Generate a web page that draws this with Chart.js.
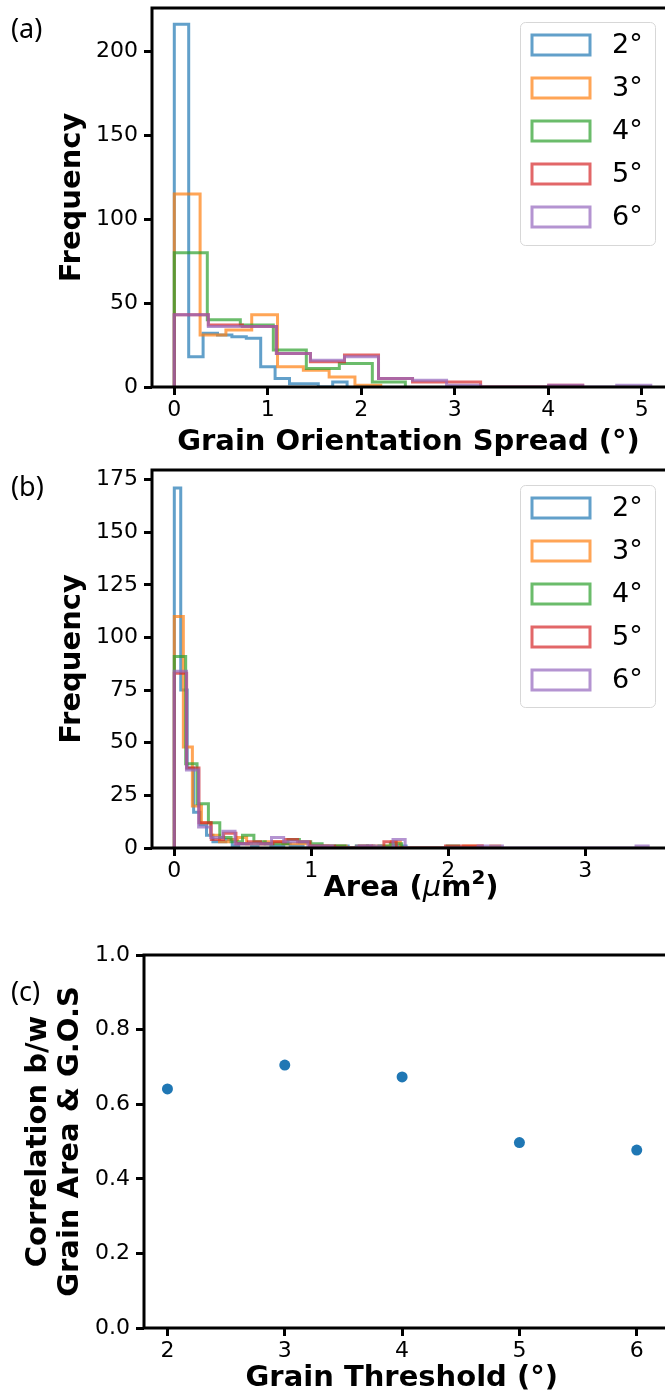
<!DOCTYPE html>
<html>
<head>
<meta charset="utf-8">
<script src="https://cdn.jsdelivr.net/npm/chart.js@4.4.1/dist/chart.umd.min.js"></script>
<style>
html, body { margin:0; padding:0; background:#fff; width:665px; height:1397px; overflow:hidden; }
.panel { position:absolute; left:0; width:665px; }
.panel canvas { display:block; }
.lbl { position:absolute; left:11px; font-family:"Noto Sans", sans-serif; font-size:27px; line-height:32px; color:#000; }
</style>
</head>
<body>
<div class="panel" style="top:0;height:462px"><canvas id="ca" width="665" height="462"></canvas></div>
<div class="panel" style="top:462px;height:468px"><canvas id="cb" width="665" height="468"></canvas></div>
<div class="panel" style="top:930px;height:467px"><canvas id="cc" width="665" height="467"></canvas></div>
<div class="lbl" style="top:12px">(a)</div>
<div class="lbl" style="top:470px">(b)</div>
<div class="lbl" style="top:975px">(c)</div>
<script>
// ---------- shared ----------
const seriesLabels = ['2°', '3°', '4°', '5°', '6°'];
const seriesColors = ['rgba(31,119,180,0.7)', 'rgba(255,127,14,0.7)', 'rgba(44,160,44,0.7)', 'rgba(214,39,40,0.7)', 'rgba(148,103,189,0.7)'];

// ---------- (a) Grain Orientation Spread histograms ----------
const gosBinWidth = [0.154, 0.276, 0.353, 0.364, 0.364];
const gos2 = [216, 18, 32, 31, 30, 29, 12, 5, 2, 2, 0, 3];
const gos3 = [115, 31, 34, 43, 12, 10, 6, 1];
const gos4 = [80, 40, 37, 22, 11, 14, 3];
const gos5 = [43, 37, 36, 20, 15, 19, 5, 3, 3, 0, 0, 1];
const gos6 = [43, 36, 36, 20, 16, 18, 5, 4, 1, 0, 0, 1, 0, 1];
const gosTicksX = [0, 1, 2, 3, 4, 5];
const gosTicksY = [0, 50, 100, 150, 200];

// ---------- (b) Area histograms ----------
const areaBinWidth = [0.047, 0.066, 0.083, 0.09, 0.0887];
const area2 = [171, 75, 38, 17, 11, 6, 3, 3, 4, 1, 2, 2, 1, 2, 2, 1, 1, 2, 1, 1, 0, 1, 1, 0, 0, 1, 1, 0, 0, 0, 1, 0, 0, 0, 1, 1];
const area3 = [110, 48, 20, 12, 6, 3, 4, 5, 2, 2, 3, 3, 2, 2, 2, 1, 1, 0, 1, 0, 0, 0, 1, 1, 3, 0, 0, 0, 0, 0, 0, 0, 1, 1, 0, 1];
const area4 = [91, 40, 21, 12, 5, 3, 6, 3, 2, 2, 4, 3, 2, 1, 1, 0, 1, 0, 1, 2, 0, 0, 0, 0, 1];
const area5 = [83, 38, 12, 4, 7, 2, 3, 2, 3, 4, 3, 1, 1, 0, 0, 1, 0, 3, 0, 0, 0, 0, 1, 1, 1];
const area6 = [84, 37, 10, 5, 8, 2, 2, 2, 5, 3, 3, 1, 1, 0, 0, 1, 1, 0, 4, 0, 0, 0, 0, 0, 0, 1, 1, 0, 0, 0, 0, 0, 0, 0, 0, 0, 0, 0, 1];
const areaTicksX = [0, 1, 2, 3];
const areaTicksY = [0, 25, 50, 75, 100, 125, 150, 175];

// ---------- (c) correlation ----------
const thresholds = [2, 3, 4, 5, 6];
const correlation = [0.641, 0.705, 0.673, 0.497, 0.477];
const corrTicksX = [2, 3, 4, 5, 6];
const corrTicksY = [0, 0.2, 0.4, 0.6, 0.8, 1.0];

// ---------- helpers ----------
const FONT = "'DejaVu Sans', sans-serif";
const TICK_SIZE = 22;
const TITLE_SIZE = 29;

function stepOutline(counts, width) {
  const pts = [{ x: 0, y: 0 }];
  counts.forEach((c, i) => pts.push({ x: i * width, y: c }));
  pts.push({ x: counts.length * width, y: 0 });
  return pts;
}

function histDatasets(seriesList, widths) {
  return seriesList.map((counts, i) => ({
    label: seriesLabels[i],
    data: stepOutline(counts, widths[i]),
    borderColor: seriesColors[i],
    backgroundColor: 'transparent',
    borderWidth: 3,
    stepped: true,
    pointRadius: 0,
    fill: false,
    tension: 0,
    borderJoinStyle: 'miter',
    borderCapStyle: 'butt',
    order: seriesList.length - i
  }));
}

const framePlugin = {
  id: 'frame',
  afterDatasetsDraw(chart) {
    const { ctx, chartArea: a } = chart;
    ctx.save();
    ctx.strokeStyle = '#000';
    ctx.lineWidth = 3;
    ctx.lineJoin = 'miter';
    ctx.beginPath();
    ctx.moveTo(chart.width + 5, a.top);
    ctx.lineTo(a.left, a.top);
    ctx.lineTo(a.left, a.bottom);
    ctx.lineTo(chart.width + 5, a.bottom);
    ctx.stroke();
    ctx.restore();
  }
};

const boxLegend = {
  id: 'boxLegend',
  afterDatasetsDraw(chart, args, o) {
    if (!o || !o.show) return;
    const ctx = chart.ctx;
    ctx.save();
    ctx.beginPath();
    ctx.roundRect(o.left + 0.5, o.top + 0.5, o.width, o.height, 5);
    ctx.fillStyle = 'rgba(255,255,255,0.8)';
    ctx.fill();
    ctx.strokeStyle = 'rgba(215,215,215,1)';
    ctx.lineWidth = 1;
    ctx.stroke();
    chart.data.datasets.forEach((ds, i) => {
      const cy = o.top + o.first + i * o.step;
      ctx.strokeStyle = ds.borderColor;
      ctx.lineWidth = 3;
      ctx.strokeRect(o.left + 12, cy - 10, 58, 20);
      ctx.fillStyle = '#000';
      ctx.font = "27px " + FONT;
      ctx.textBaseline = 'middle';
      ctx.textAlign = 'left';
      ctx.fillText(ds.label, o.left + 92, cy + 1);
    });
    ctx.restore();
  }
};

// x-axis title with mixed styles (italic mu, superscript 2)
const richTitle = {
  id: 'richTitle',
  afterDraw(chart, args, o) {
    if (!o || !o.parts) return;
    const ctx = chart.ctx;
    ctx.save();
    ctx.fillStyle = '#000';
    ctx.textBaseline = 'alphabetic';
    ctx.textAlign = 'left';
    let total = 0;
    o.parts.forEach(p => { ctx.font = p.font; total += ctx.measureText(p.text).width; });
    let x = o.cx - total / 2;
    o.parts.forEach(p => {
      ctx.font = p.font;
      ctx.fillText(p.text, x, o.baseline + (p.dy || 0));
      x += ctx.measureText(p.text).width;
    });
    ctx.restore();
  }
};

function tickSetter(list) {
  return (s) => { s.ticks = list.map(v => ({ value: v })); };
}

function axisX(min, max, ticks, title, height, titlePadBottom, fmt) {
  return {
    type: 'linear', min, max,
    afterBuildTicks: tickSetter(ticks),
    afterFit: (s) => { s.height = height; s.paddingLeft = 0; s.paddingRight = 0; },
    border: { display: false },
    grid: { display: true, drawOnChartArea: false, drawTicks: true, tickLength: 8, tickWidth: 3, tickColor: '#000' },
    ticks: { color: '#000', font: { family: FONT, size: TICK_SIZE }, padding: 2, maxRotation: 0, autoSkip: false, callback: fmt },
    title: { display: !!title, text: title || '', color: '#000', font: { family: FONT, size: TITLE_SIZE, weight: 'bold', lineHeight: 1.2 }, padding: { top: 0, bottom: titlePadBottom } }
  };
}

function axisY(min, max, ticks, title, titlePadTop, fmt, lh, width) {
  return {
    type: 'linear', min, max,
    afterBuildTicks: tickSetter(ticks),
    afterFit: (s) => { s.width = width; s.paddingTop = 0; s.paddingBottom = 0; },
    border: { display: false },
    grid: { display: true, drawOnChartArea: false, drawTicks: true, tickLength: 8, tickWidth: 3, tickColor: '#000' },
    ticks: { color: '#000', font: { family: FONT, size: TICK_SIZE }, padding: 6, autoSkip: false, callback: fmt },
    title: { display: true, text: title, color: '#000', font: { family: FONT, size: TITLE_SIZE, weight: 'bold', lineHeight: lh || 1.2 }, padding: { top: titlePadTop, bottom: 0 } }
  };
}

// ---------- chart (a) ----------
new Chart(document.getElementById('ca'), {
  type: 'line',
  data: { datasets: histDatasets([gos2, gos3, gos4, gos5, gos6], gosBinWidth) },
  options: {
    responsive: false, animation: false, events: [],
    layout: { padding: { top: 8, left: 0, right: 0, bottom: 0 } },
    plugins: { legend: { display: false }, tooltip: { enabled: false },
      boxLegend: { show: true, left: 520, top: 22, width: 135, height: 223, first: 23, step: 43 } },
    scales: {
      x: axisX(-0.2385, 5.248, gosTicksX, 'Grain Orientation Spread (°)', 75, 2, v => String(v)),
      y: axisY(0, 225.75, gosTicksY, 'Frequency', 55, v => String(v), 1.2, 152)
    }
  },
  plugins: [framePlugin, boxLegend]
});

// ---------- chart (b) ----------
const BOLD = "bold " + TITLE_SIZE + "px " + FONT;
new Chart(document.getElementById('cb'), {
  type: 'line',
  data: { datasets: histDatasets([area2, area3, area4, area5, area6], areaBinWidth) },
  options: {
    responsive: false, animation: false, events: [],
    layout: { padding: { top: 8, left: 0, right: 0, bottom: 0 } },
    plugins: { legend: { display: false }, tooltip: { enabled: false },
      boxLegend: { show: true, left: 520, top: 23, width: 135, height: 222, first: 23, step: 43 },
      richTitle: { cx: 411, baseline: 434, parts: [
        { text: 'Area (', font: BOLD },
        { text: 'μ', font: "italic " + TITLE_SIZE + "px " + FONT },
        { text: 'm', font: BOLD },
        { text: '2', font: "bold 20px " + FONT, dy: -12 },
        { text: ')', font: BOLD }
      ] } },
    scales: {
      x: axisX(-0.1628, 3.582, areaTicksX, null, 82, 0, v => String(v)),
      y: axisY(0, 179.55, areaTicksY, 'Frequency', 55, v => String(v), 1.2, 152)
    }
  },
  plugins: [framePlugin, boxLegend, richTitle]
});

// ---------- chart (c) ----------
new Chart(document.getElementById('cc'), {
  type: 'scatter',
  data: { datasets: [{
    label: 'correlation',
    data: thresholds.map((t, i) => ({ x: t, y: correlation[i] })),
    backgroundColor: '#1f77b4',
    borderWidth: 0,
    pointRadius: 5.5
  }] },
  options: {
    responsive: false, animation: false, events: [],
    layout: { padding: { top: 25, left: 0, right: 0, bottom: 0 } },
    plugins: { legend: { display: false }, tooltip: { enabled: false } },
    scales: {
      x: axisX(1.8, 6.194, corrTicksX, 'Grain Threshold (°)', 69, 1, v => String(v)),
      y: axisY(0, 1, corrTicksY, ['Correlation b/w', 'Grain Area & G.O.S'], 23, v => v.toFixed(1), 1.08, 144)
    }
  },
  plugins: [framePlugin]
});
</script>
</body>
</html>
